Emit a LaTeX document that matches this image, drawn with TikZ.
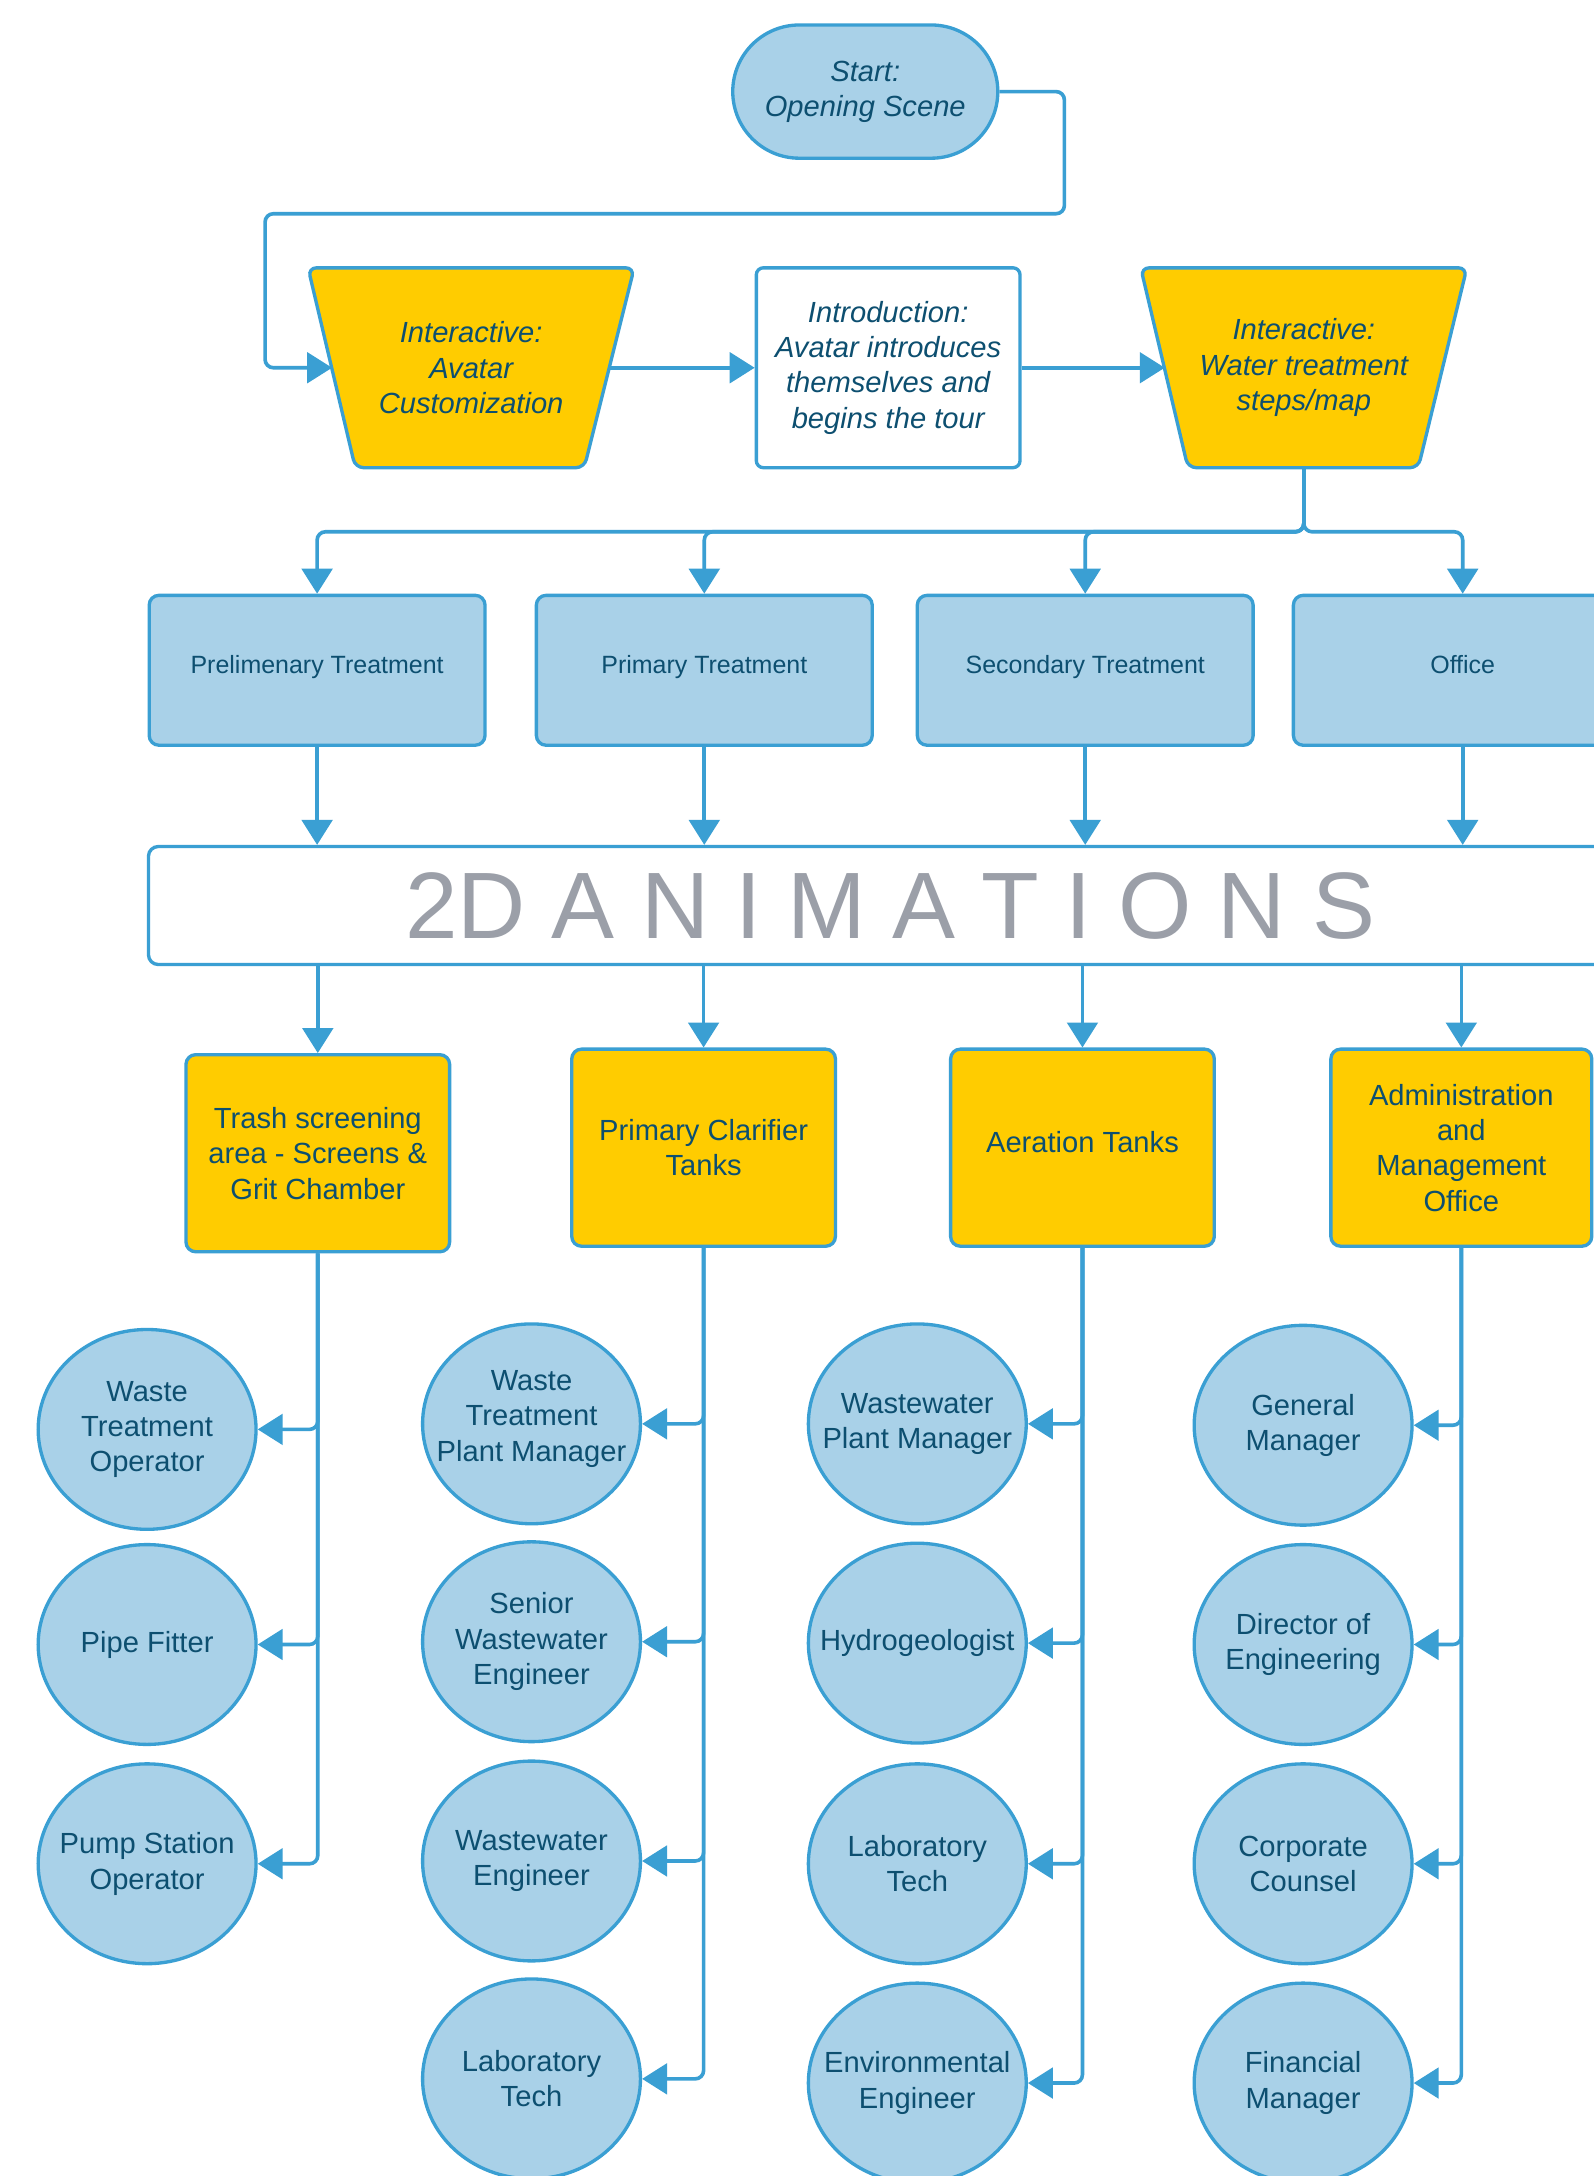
\documentclass[tikz,border=0pt]{standalone}
\usepackage{fontspec}
\setmainfont{Liberation Sans}
\usetikzlibrary{arrows.meta,shapes.geometric}
\definecolor{lblue}{HTML}{A9D1E8}
\definecolor{bblue}{HTML}{3A9FD3}
\definecolor{tblue}{HTML}{0D4F70}
\definecolor{yel}{HTML}{FFCC00}
\definecolor{gtext}{HTML}{9B9FA8}
\begin{document}
\begin{tikzpicture}[x=1pt,y=-1pt,
  border/.style={draw=bblue,line width=2.4pt},
  con/.style={draw=bblue,line width=2.6pt,rounded corners=6pt},
  arr/.style={-{Triangle[length=18pt,width=22pt]}},
  big/.style={font=\fontsize{21pt}{25.5pt}\selectfont,text=tblue,align=center},
  ital/.style={font=\fontsize{21pt}{25.5pt}\selectfont\itshape,text=tblue,align=center},
  bluebox/.style={border,fill=lblue,rounded corners=7pt,minimum width=242pt,minimum height=108pt,
     font=\fontsize{18pt}{22pt}\selectfont,text=tblue,inner sep=2pt,text height=13pt,text depth=8pt},
  ybox/.style={border,fill=yel,rounded corners=7pt,minimum width=190pt,minimum height=142pt,big,inner sep=2pt},
  circ/.style={ellipse,border,fill=lblue,minimum width=157pt,minimum height=144pt,inner xsep=-16pt,inner ysep=0pt,big},
  trap/.style={border,fill=yel,rounded corners=6pt}
]
\useasboundingbox (0,0) rectangle (1148,1568);
\fill[white] (0,0) rectangle (1148,1568);

% top row
\node[border,fill=lblue,rounded corners=48pt,minimum width=191pt,minimum height=96pt,ital] (St) at (623.5,66) {Start:\\Opening Scene};
\draw[trap] (222,193) -- (457,193) -- (421,337) -- (256,337) -- cycle;
\node[ital,minimum width=200pt,minimum height=144pt,inner sep=0pt] (Av) at (339.5,265) {Interactive:\\Avatar\\Customization};
\node[border,fill=white,rounded corners=5pt,minimum width=190pt,minimum height=144pt,ital,inner sep=2pt] (In) at (640,265) {Introduction:\\Avatar introduces\\themselves and\\begins the tour};
\draw[trap] (822,193) -- (1057,193) -- (1022,337) -- (856,337) -- cycle;
\node[ital,minimum width=200pt,minimum height=144pt,inner sep=0pt] (W) at (939.5,265) {Interactive:\\Water treatment\\steps/map};

\draw[con,arr] (St.east) -| (767,154) -- (191,154) |- (Av.west);
\draw[con,arr] (Av) -- (In);
\draw[con,arr] (In) -- (W);

% treatment boxes
\node[bluebox] (P1) at (228.5,483) {Prelimenary Treatment};
\node[bluebox] (P2) at (507.5,483) {Primary Treatment};
\node[bluebox] (P3) at (782,483) {Secondary Treatment};
\node[bluebox,minimum width=244pt] (P4) at (1054,483) {Office};

\foreach \p in {P1,P2,P3,P4}
  \draw[con,arr] (W.south) -- ++(0,46) -| (\p.north);

% 2D animations
\node[border,fill=white,rounded corners=7pt,minimum width=1069pt,minimum height=85pt,
  font=\fontsize{68pt}{70pt}\selectfont,text=gtext,inner sep=0pt] (A) at (641.5,652.5) {2D A N I M A T I O N S};

\foreach \p in {P1,P2,P3,P4}
  \draw[con,arr] (\p.south) -- (\p.south |- A.north);

% yellow boxes
\node[ybox] (Y1) at (229,831) {Trash screening\\area - Screens \&\\Grit Chamber};
\node[ybox] (Y2) at (507,827) {Primary Clarifier\\Tanks};
\node[ybox] (Y3) at (780,827) {Aeration Tanks\\[-17.5pt]};
\node[ybox,minimum width=188pt] (Y4) at (1053,827) {Administration\\and\\Management\\Office};

\foreach \y in {Y1,Y2,Y3,Y4}
  \draw[con,arr] (\y.north |- A.south) -- (\y.north);

% circles
\node[circ] (C11) at (106,1030) {Waste\\Treatment\\Operator};
\node[circ] (C12) at (106,1185) {Pipe Fitter};
\node[circ] (C13) at (106,1343) {Pump Station\\Operator};
\node[circ] (C21) at (383,1026) {Waste\\Treatment\\Plant Manager\\[-14pt]};
\node[circ] (C22) at (383,1183) {Senior\\Wastewater\\Engineer};
\node[circ] (C23) at (383,1341) {Wastewater\\Engineer};
\node[circ] (C24) at (383,1498) {Laboratory\\Tech};
\node[circ] (C31) at (661,1026) {Wastewater\\Plant Manager};
\node[circ] (C32) at (661,1184) {Hydrogeologist};
\node[circ] (C33) at (661,1343) {Laboratory\\Tech};
\node[circ] (C34) at (661,1501) {Environmental\\Engineer};
\node[circ] (C41) at (939,1027) {General\\Manager};
\node[circ] (C42) at (939,1185) {Director of\\Engineering};
\node[circ] (C43) at (939,1343) {Corporate\\Counsel};
\node[circ] (C44) at (939,1501) {Financial\\Manager};

\foreach \c in {C11,C12,C13}
  \draw[con,arr] (Y1.south) |- (\c.east);
\foreach \c in {C21,C22,C23,C24}
  \draw[con,arr] (Y2.south) |- (\c.east);
\foreach \c in {C31,C32,C33,C34}
  \draw[con,arr] (Y3.south) |- (\c.east);
\foreach \c in {C41,C42,C43,C44}
  \draw[con,arr] (Y4.south) |- (\c.east);
\end{tikzpicture}
\end{document}
